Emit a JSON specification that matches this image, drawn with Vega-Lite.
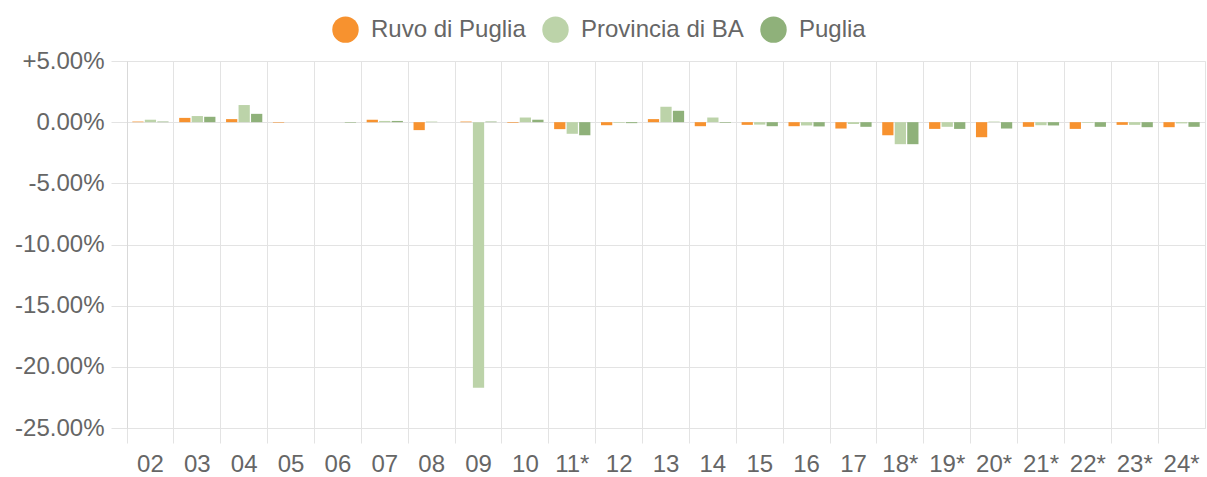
{
  "$schema": "https://vega.github.io/schema/vega-lite/v6.json",
  "autosize": {"type": "none"},
  "width": 1078,
  "height": 367,
  "padding": {"left": 127, "top": 61, "right": 2, "bottom": 49},
  "config": {
    "font": "Liberation Sans",
    "view": {"stroke": "#e3e3e3", "strokeWidth": 1},
    "axis": {"labelColor": "#666666", "labelFontSize": 24, "gridColor": "#e3e3e3", "tickColor": "#e3e3e3", "domainColor": "#d9d9d9", "title": null}
  },
  "data": {"values": [
    {"anno": "02", "serie": "Ruvo di Puglia", "valore": 0.05},
    {"anno": "02", "serie": "Provincia di BA", "valore": 0.2},
    {"anno": "02", "serie": "Puglia", "valore": 0.05},
    {"anno": "03", "serie": "Ruvo di Puglia", "valore": 0.35},
    {"anno": "03", "serie": "Provincia di BA", "valore": 0.5},
    {"anno": "03", "serie": "Puglia", "valore": 0.44},
    {"anno": "04", "serie": "Ruvo di Puglia", "valore": 0.25},
    {"anno": "04", "serie": "Provincia di BA", "valore": 1.4},
    {"anno": "04", "serie": "Puglia", "valore": 0.68},
    {"anno": "05", "serie": "Ruvo di Puglia", "valore": -0.05},
    {"anno": "05", "serie": "Provincia di BA", "valore": 0},
    {"anno": "05", "serie": "Puglia", "valore": 0},
    {"anno": "06", "serie": "Ruvo di Puglia", "valore": 0},
    {"anno": "06", "serie": "Provincia di BA", "valore": 0},
    {"anno": "06", "serie": "Puglia", "valore": -0.05},
    {"anno": "07", "serie": "Ruvo di Puglia", "valore": 0.2},
    {"anno": "07", "serie": "Provincia di BA", "valore": 0.1},
    {"anno": "07", "serie": "Puglia", "valore": 0.1},
    {"anno": "08", "serie": "Ruvo di Puglia", "valore": -0.65},
    {"anno": "08", "serie": "Provincia di BA", "valore": 0.05},
    {"anno": "08", "serie": "Puglia", "valore": 0},
    {"anno": "09", "serie": "Ruvo di Puglia", "valore": 0.05},
    {"anno": "09", "serie": "Provincia di BA", "valore": -21.7},
    {"anno": "09", "serie": "Puglia", "valore": 0.05},
    {"anno": "10", "serie": "Ruvo di Puglia", "valore": -0.05},
    {"anno": "10", "serie": "Provincia di BA", "valore": 0.38},
    {"anno": "10", "serie": "Puglia", "valore": 0.2},
    {"anno": "11*", "serie": "Ruvo di Puglia", "valore": -0.57},
    {"anno": "11*", "serie": "Provincia di BA", "valore": -0.95},
    {"anno": "11*", "serie": "Puglia", "valore": -1.07},
    {"anno": "12", "serie": "Ruvo di Puglia", "valore": -0.25},
    {"anno": "12", "serie": "Provincia di BA", "valore": -0.05},
    {"anno": "12", "serie": "Puglia", "valore": -0.08},
    {"anno": "13", "serie": "Ruvo di Puglia", "valore": 0.25},
    {"anno": "13", "serie": "Provincia di BA", "valore": 1.26},
    {"anno": "13", "serie": "Puglia", "valore": 0.93},
    {"anno": "14", "serie": "Ruvo di Puglia", "valore": -0.33},
    {"anno": "14", "serie": "Provincia di BA", "valore": 0.38},
    {"anno": "14", "serie": "Puglia", "valore": -0.05},
    {"anno": "15", "serie": "Ruvo di Puglia", "valore": -0.22},
    {"anno": "15", "serie": "Provincia di BA", "valore": -0.2},
    {"anno": "15", "serie": "Puglia", "valore": -0.33},
    {"anno": "16", "serie": "Ruvo di Puglia", "valore": -0.33},
    {"anno": "16", "serie": "Provincia di BA", "valore": -0.27},
    {"anno": "16", "serie": "Puglia", "valore": -0.35},
    {"anno": "17", "serie": "Ruvo di Puglia", "valore": -0.52},
    {"anno": "17", "serie": "Provincia di BA", "valore": -0.15},
    {"anno": "17", "serie": "Puglia", "valore": -0.38},
    {"anno": "18*", "serie": "Ruvo di Puglia", "valore": -1.07},
    {"anno": "18*", "serie": "Provincia di BA", "valore": -1.8},
    {"anno": "18*", "serie": "Puglia", "valore": -1.8},
    {"anno": "19*", "serie": "Ruvo di Puglia", "valore": -0.55},
    {"anno": "19*", "serie": "Provincia di BA", "valore": -0.38},
    {"anno": "19*", "serie": "Puglia", "valore": -0.55},
    {"anno": "20*", "serie": "Ruvo di Puglia", "valore": -1.23},
    {"anno": "20*", "serie": "Provincia di BA", "valore": 0.05},
    {"anno": "20*", "serie": "Puglia", "valore": -0.52},
    {"anno": "21*", "serie": "Ruvo di Puglia", "valore": -0.38},
    {"anno": "21*", "serie": "Provincia di BA", "valore": -0.25},
    {"anno": "21*", "serie": "Puglia", "valore": -0.27},
    {"anno": "22*", "serie": "Ruvo di Puglia", "valore": -0.55},
    {"anno": "22*", "serie": "Provincia di BA", "valore": -0.05},
    {"anno": "22*", "serie": "Puglia", "valore": -0.38},
    {"anno": "23*", "serie": "Ruvo di Puglia", "valore": -0.22},
    {"anno": "23*", "serie": "Provincia di BA", "valore": -0.22},
    {"anno": "23*", "serie": "Puglia", "valore": -0.41},
    {"anno": "24*", "serie": "Ruvo di Puglia", "valore": -0.41},
    {"anno": "24*", "serie": "Provincia di BA", "valore": -0.1},
    {"anno": "24*", "serie": "Puglia", "valore": -0.38}
  ]},
  "mark": {"type": "bar"},
  "encoding": {
    "x": {
      "field": "anno", "type": "nominal", "sort": null,
      "scale": {"paddingInner": 0, "paddingOuter": 0},
      "axis": {"bandPosition": 0, "labelOffset": 0, "labelAngle": 0, "grid": true, "domain": false, "tickSize": 15, "labelPadding": 9}
    },
    "xOffset": {
      "field": "serie", "type": "nominal",
      "sort": ["Ruvo di Puglia", "Provincia di BA", "Puglia"],
      "scale": {"paddingInner": 0.1, "paddingOuter": 0.425}
    },
    "y": {
      "field": "valore", "type": "quantitative",
      "scale": {"domain": [-25, 5], "nice": false, "zero": false},
      "axis": {"values": [-25, -20, -15, -10, -5, 0, 5], "tickSize": 16, "labelPadding": 7,
        "labelExpr": "(datum.value > 0 ? '+' : '') + replace(format(datum.value, '.2f'), '\u2212', '-') + '%'"}
    },
    "color": {
      "field": "serie", "type": "nominal",
      "scale": {"domain": ["Ruvo di Puglia", "Provincia di BA", "Puglia"], "range": ["#f7922f", "#bcd3a9", "#8fb17a"]},
      "legend": {"orient": "none", "legendX": 205, "legendY": -45, "direction": "horizontal", "title": null,
        "symbolType": "circle", "symbolSize": 700, "symbolStrokeWidth": 0, "symbolOpacity": 1,
        "labelFontSize": 24, "labelColor": "#666666", "labelOffset": 12, "labelLimit": 400, "columnPadding": 16}
    }
  }
}
